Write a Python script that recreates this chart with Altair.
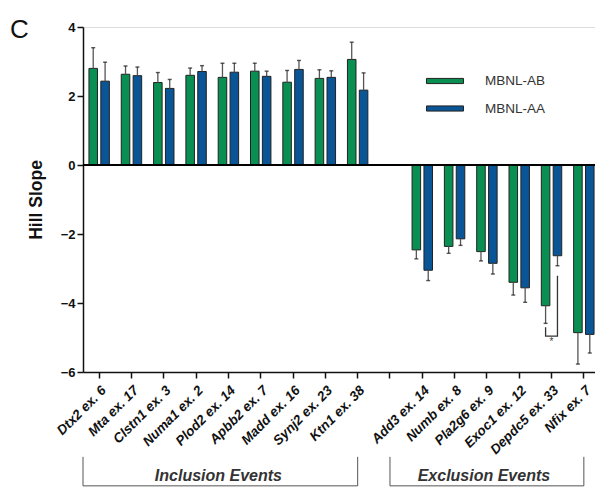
import altair as alt
import pandas as pd

# Splicing events (inclusion first, exclusion second) and the two MBNL1 isoforms
inclusion_events = ["Dtx2 ex. 6", "Mta ex. 17", "Clstn1 ex. 3", "Numa1 ex. 2", "Plod2 ex. 14",
                    "Apbb2 ex. 7", "Madd ex. 16", "Synj2 ex. 23", "Ktn1 ex. 38"]
exclusion_events = ["Add3 ex. 14", "Numb ex. 8", "Pla2g6 ex. 9", "Exoc1 ex. 12",
                    "Depdc5 ex. 33", "Nfix ex. 7"]
GAP = " "  # empty slot separating the two event groups
slots = inclusion_events + [GAP] + exclusion_events
events = inclusion_events + exclusion_events
isoforms = ["MBNL-AB", "MBNL-AA"]

# Hill slope (mean) and one-sided error for each event
ab_slope = [2.80, 2.63, 2.39, 2.60, 2.54, 2.72, 2.40, 2.51, 3.06,
            -2.46, -2.36, -2.51, -3.40, -4.08, -4.86]
ab_err = [0.60, 0.24, 0.29, 0.21, 0.41, 0.23, 0.34, 0.25, 0.50,
          0.26, 0.20, 0.27, 0.37, 0.51, 0.91]
aa_slope = [2.43, 2.59, 2.22, 2.71, 2.69, 2.57, 2.77, 2.54, 2.17,
            -3.05, -2.14, -2.85, -3.56, -2.63, -4.91]
aa_err = [0.55, 0.25, 0.26, 0.17, 0.26, 0.15, 0.26, 0.19, 0.50,
          0.30, 0.19, 0.31, 0.42, 0.29, 0.54]

GREEN = "#0a8f52"
BLUE = "#0a5596"
FONT = "Liberation Sans"

rows = []
for iso, vals, errs in [("MBNL-AB", ab_slope, ab_err), ("MBNL-AA", aa_slope, aa_err)]:
    for ev, v, e in zip(events, vals, errs):
        tip = v + e if v >= 0 else v - e
        rows.append({"event": ev, "isoform": iso, "slope": v, "tip": tip})
df = pd.DataFrame(rows)

x_scale = alt.Scale(domain=slots, range=[0, 517], paddingInner=0, paddingOuter=0)
off_scale = alt.Scale(domain=isoforms, paddingInner=0.28, paddingOuter=0.5)
y_scale = alt.Scale(domain=[-6, 4], nice=False)

X = alt.X("event:N", scale=x_scale, sort=slots, title=None,
          axis=alt.Axis(labelAngle=-45, labelAlign="right", labelBaseline="top",
                        labelFont=FONT, labelFontSize=13.5, labelFontWeight="bold",
                        labelFontStyle="italic", labelColor="#111", labelPadding=5,
                        tickSize=6, tickWidth=1.5, tickColor="#111",
                        domainColor="#111", domainWidth=1.5, labelOverlap=False))
XOFF = alt.XOffset("isoform:N", scale=off_scale, sort=isoforms)
Y = alt.Y("slope:Q", scale=y_scale, title="Hill Slope",
          axis=alt.Axis(values=[-6, -4, -2, 0, 2, 4], tickSize=6, tickWidth=1.5,
                        tickColor="#111", domainColor="#111", domainWidth=1.5,
                        labelFont=FONT, labelFontSize=13, labelFontWeight="bold",
                        labelColor="#111", labelPadding=2, grid=False,
                        titleFont=FONT, titleFontSize=17.5, titleFontWeight="bold",
                        titleColor="#111", titlePadding=15))

base = alt.Chart(df)

bars = base.mark_bar(stroke="#222", strokeWidth=1).encode(
    x=X, xOffset=XOFF, y=Y,
    fill=alt.Fill("isoform:N", scale=alt.Scale(domain=isoforms, range=[GREEN, BLUE]),
                  sort=isoforms,
                  legend=alt.Legend(title=None, orient="none", legendX=352, legendY=44,
                                    symbolType="M-2,-0.28L2,-0.28L2,0.28L-2,0.28Z",
                                    symbolSize=342, symbolStrokeColor="#222",
                                    symbolStrokeWidth=1, labelFont=FONT,
                                    labelFontSize=13.5, labelColor="#333",
                                    labelOffset=30, rowPadding=10.5, padding=0)),
)

err_lines = base.mark_rule(color="#555", strokeWidth=1.3).encode(
    x=alt.X("event:N", scale=x_scale, sort=slots), xOffset=XOFF,
    y=alt.Y("slope:Q", scale=y_scale), y2="tip:Q",
)
err_caps = base.mark_tick(color="#111", size=4, thickness=1.4, orient="horizontal").encode(
    x=alt.X("event:N", scale=x_scale, sort=slots), xOffset=XOFF,
    y=alt.Y("tip:Q", scale=y_scale),
)

zero = alt.Chart(pd.DataFrame({"v": [0]})).mark_rule(color="#000", strokeWidth=2.2).encode(
    y=alt.Y("v:Q", scale=y_scale)
)

# significance bracket between the two isoforms for Depdc5 ex. 33
sig = pd.DataFrame({
    "event": ["Depdc5 ex. 33"] * 4,
    "isoform": ["MBNL-AB", "MBNL-AB", "MBNL-AA", "MBNL-AA"],
    "y": [-4.70, -4.96, -4.96, -3.21],
    "k": [0, 1, 2, 3],
})
sig_line = alt.Chart(sig).mark_line(color="#333", strokeWidth=1.3).encode(
    x=alt.X("event:N", scale=x_scale, sort=slots), xOffset=XOFF,
    y=alt.Y("y:Q", scale=y_scale), order="k:Q",
)
star = alt.Chart(pd.DataFrame({"event": ["Depdc5 ex. 33"], "y": [-5.13], "t": ["*"]})).mark_text(
    font=FONT, fontSize=10, color="#444", baseline="middle"
).encode(x=alt.X("event:N", scale=x_scale, sort=slots), y=alt.Y("y:Q", scale=y_scale), text="t:N")

# group brackets below the axis labels
B_TOP, B_BOT, B_TXT = -8.46, -9.30, -9.0
brk_color = "#555"


def bracket(start, end, start_band):
    d = pd.DataFrame({"start": [start], "end": [end]})
    c = alt.Chart(d)
    left = c.mark_rule(color=brk_color, strokeWidth=1).encode(
        x=alt.X("start:N", scale=x_scale, sort=slots, bandPosition=start_band),
        y=alt.datum(B_TOP, scale=y_scale), y2=alt.datum(B_BOT))
    right = c.mark_rule(color=brk_color, strokeWidth=1).encode(
        x=alt.X("end:N", scale=x_scale, sort=slots, bandPosition=0.5),
        y=alt.datum(B_TOP, scale=y_scale), y2=alt.datum(B_BOT))
    bottom = c.mark_rule(color=brk_color, strokeWidth=1).encode(
        x=alt.X("start:N", scale=x_scale, sort=slots, bandPosition=start_band),
        x2=alt.X2("end:N", bandPosition=0.5),
        y=alt.datum(B_BOT, scale=y_scale))
    return left + right + bottom


def group_label(anchor, text, shift):
    d = pd.DataFrame({"anchor": [anchor], "text": [text], "y": [B_TXT]})
    return alt.Chart(d).mark_text(
        font=FONT, fontSize=16, fontWeight="bold", fontStyle="italic", color="#333",
        baseline="middle", dx=shift).encode(
        x=alt.X("anchor:N", scale=x_scale, sort=slots), y=alt.Y("y:Q", scale=y_scale),
        text="text:N")


chart = alt.layer(
    bars, err_lines, err_caps, zero, sig_line, star,
    bracket(inclusion_events[0], inclusion_events[-1], 0.0),
    bracket(GAP, exclusion_events[-1], 0.5),
    group_label("Plod2 ex. 14", "Inclusion Events", -10),
    group_label("Pla2g6 ex. 9", "Exclusion Events", -3),
).properties(
    width=512, height=345,
    title=alt.TitleParams("C", anchor="start", frame="group", font=FONT, fontSize=26,
                          fontWeight="normal", color="#111", dx=-73, dy=38,
                          baseline="alphabetic", offset=-5),
    autosize=alt.AutoSizeParams(type="none"),
    padding={"left": 83, "top": 27, "right": 0, "bottom": 117},
).configure_view(stroke=None).configure(background="white")

chart.save("out.html", embed_options={"renderer": "svg", "actions": False})
